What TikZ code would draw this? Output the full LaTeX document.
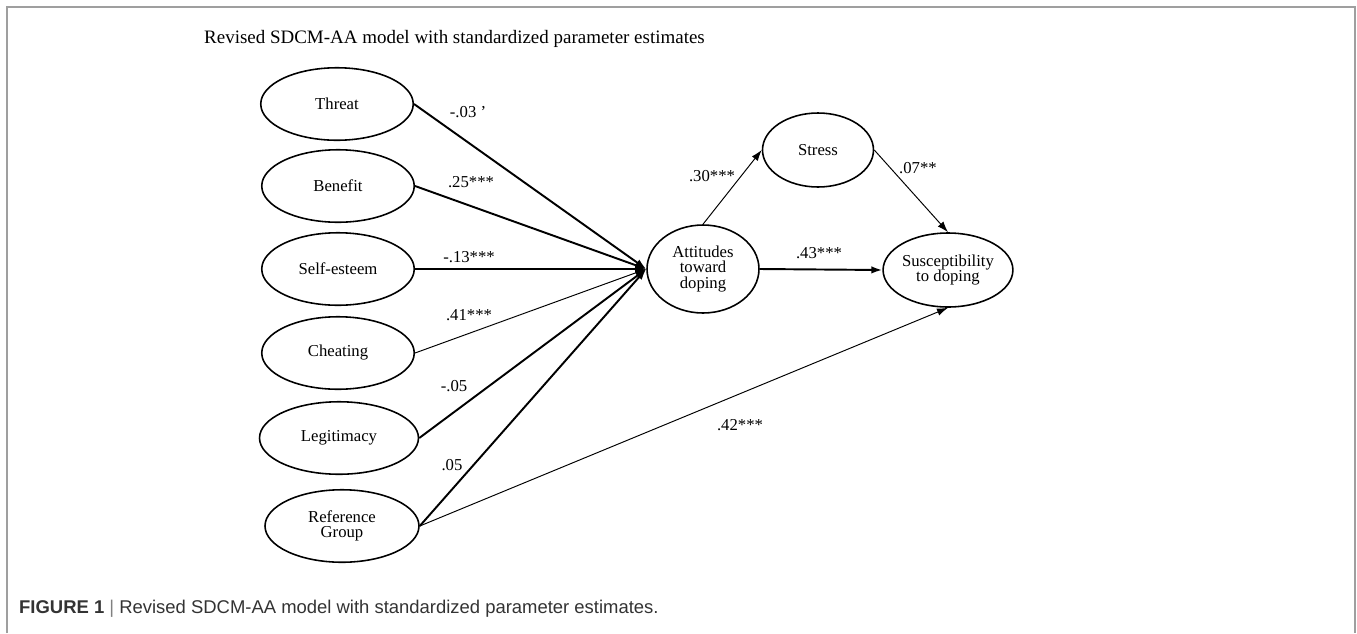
\documentclass[tikz,border=0pt]{standalone}
\usepackage{fontspec}
\setmainfont{Liberation Serif}
\newfontfamily\capfont{Liberation Sans}
\usetikzlibrary{positioning,arrows.meta,shapes.geometric}

\begin{document}
\begin{tikzpicture}[
  x=0.02cm, y=-0.02cm,
  >={Latex[length=2.2mm,width=1.5mm]},
  var/.style={
    draw=black, line width=0.9pt, ellipse, inner sep=0pt,
    minimum width=3.05cm, minimum height=1.45cm,
    align=center, font=\fontsize{9.5}{8.8}\selectfont
  },
  arr/.style={->, line width=1.1pt},
  arrmid/.style={->, line width=0.75pt},
  arrthin/.style={->, line width=0.55pt},
  coef/.style={font=\fontsize{9.5}{11}\selectfont}
]
\useasboundingbox (0,0) rectangle (1357,633);

% --- cadre
\draw[gray!75, line width=1.1pt] (7,633) -- (7,7) -- (1355,7) -- (1355,633);

% --- titre
\node[anchor=west, font=\fontsize{10.8}{12}\selectfont] (title) at (198,39)
  {Revised SDCM-AA model with standardized parameter estimates};

% --- variables exogènes
\node[var] (threat)  at (337,104) {Threat};
\node[var] (benefit) at (338,186) {Benefit};
\node[var] (selfest) at (338,269) {Self-esteem};
\node[var] (cheat)   at (338,353) {Cheating};
\node[var, minimum width=3.18cm] (legit)  at (339,438) {Legitimacy};
\node[var, minimum width=3.08cm] (refgrp) at (342,526) {Reference\\Group};

% --- variables endogènes
\node[var, minimum width=2.24cm, minimum height=1.76cm] (att)    at (703,269) {Attitudes\\toward\\doping};
\node[var, minimum width=2.22cm, minimum height=1.48cm] (stress) at (818,150) {Stress};
\node[var, minimum width=2.48cm, minimum height=1.48cm] (susc)   at (948,270) {Susceptibility\\to doping};

% --- chemins vers les attitudes
\draw[arr]     (threat.east)  -- (att.west);
\draw[arr]     (benefit.east) -- (att.west);
\draw[arrmid]  (selfest.east) -- (att.west);
\draw[arrthin] (cheat.east)   -- (att.west);
\draw[arr]     (legit.east)   -- (att.west);
\draw[arr]     (refgrp.east)  -- (att.west);

% --- chemins vers la susceptibilité
\draw[arrthin] (att.north)   -- (stress.west);
\draw[arrthin] (stress.east) -- (susc.north);
\draw[arr]     (att.east)    -- (susc.west);
\draw[arrthin] (refgrp.east) -- (susc.south);

% --- coefficients
\node[coef] (c_threat)  at (468,112) {-.03 ’};
\node[coef] (c_benefit) at (471,182) {.25***};
\node[coef] (c_selfest) at (469,257) {-.13***};
\node[coef] (c_cheat)   at (469,315) {.41***};
\node[coef] (c_legit)   at (454,386) {-.05};
\node[coef] (c_refatt)  at (452,465) {.05};
\node[coef] (c_stress)  at (712,176) {.30***};
\node[coef] (c_strsus)  at (918,168) {.07**};
\node[coef] (c_attsus)  at (819,253) {.43***};
\node[coef] (c_refsus)  at (740,425) {.42***};

% --- légende
\node[anchor=west, font=\capfont\fontsize{10.5}{12}\selectfont, text=black!80] (caption) at (13,609)
  {\textbf{FIGURE 1} {\color{gray}|} Revised SDCM-AA model with standardized parameter estimates.};

\end{tikzpicture}
\end{document}
